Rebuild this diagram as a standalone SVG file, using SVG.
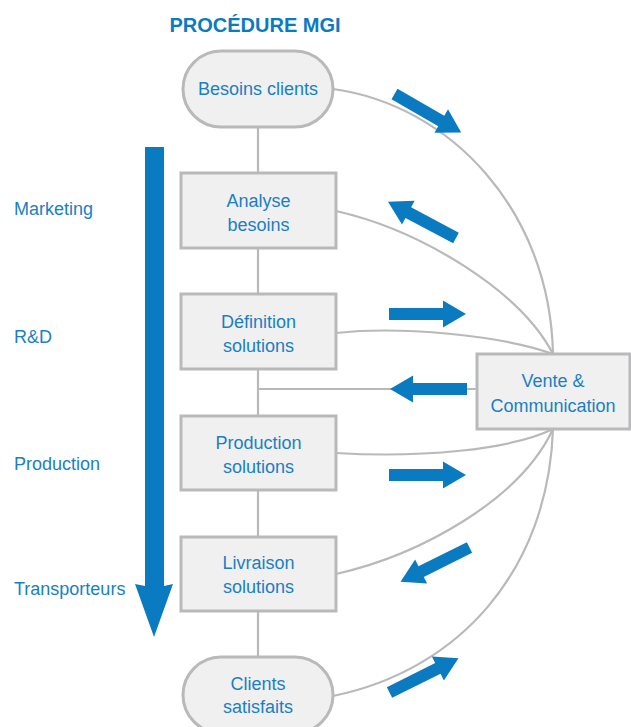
<svg xmlns="http://www.w3.org/2000/svg" width="631" height="727" viewBox="0 0 631 727">
<style>
.t{font-family:"Liberation Sans",Arial,sans-serif;font-size:18px;fill:#1a7fc4}
.c{text-anchor:middle}
.title{font-family:"Liberation Sans",Arial,sans-serif;font-size:20px;font-weight:bold;fill:#0b7bc1;text-anchor:middle}
.box{fill:#f0f0f0;stroke:#b9b9bb;stroke-width:3}
.ln{fill:none;stroke:#b9b9bb;stroke-width:2.2}
.ba{fill:#0b7bc1}
</style>
<defs>
<path id="arr" d="M0,-6 H54 V-13.5 L77,0 L54,13.5 V6 H0 Z"/>
</defs>
<rect width="631" height="727" fill="#ffffff"/>
<text class="title" x="255" y="32">PROCÉDURE MGI</text>
<g id="lanes">
<path class="ba" d="M145,147 H164 V586 L173,584 L154,637 L135,584 L145,586 Z"/>
<text class="t" x="14" y="215">Marketing</text>
<text class="t" x="14" y="343">R&amp;D</text>
<text class="t" x="14" y="470">Production</text>
<text class="t" x="14" y="595">Transporteurs</text>
</g>
<g id="connectors">
<line class="ln" x1="258" y1="127" x2="258" y2="660"/>
<line class="ln" x1="258" y1="389" x2="477" y2="389"/>
<path class="ln" d="M333,89 C450,105 550,210 553,354"/>
<path class="ln" d="M336,211 C420,230 520,290 553,354"/>
<path class="ln" d="M336,333 C400,326 500,335 553,354"/>
<path class="ln" d="M336,453 C420,458 510,450 553,429"/>
<path class="ln" d="M336,574 C420,555 520,500 553,429"/>
<path class="ln" d="M333,696 C460,670 548,570 553,429"/>
</g>
<g id="flow-arrows" class="ba">
<use href="#arr" transform="translate(394.5,94) rotate(30)"/>
<use href="#arr" transform="translate(456,238) rotate(-152)"/>
<use href="#arr" transform="translate(389,314)"/>
<use href="#arr" transform="translate(467,389) rotate(180)"/>
<use href="#arr" transform="translate(389,475)"/>
<use href="#arr" transform="translate(469.5,547.5) rotate(153.6)"/>
<use href="#arr" transform="translate(389.5,692.5) rotate(-26.4)"/>
</g>
<g id="besoins-clients">
<rect class="box" x="183" y="51" width="150" height="76" rx="38"/>
<text class="t c" x="258" y="95">Besoins clients</text>
</g>
<g id="analyse-besoins">
<rect class="box" x="181" y="173" width="155" height="75"/>
<text class="t c" x="258.5" y="207">Analyse</text>
<text class="t c" x="258.5" y="231">besoins</text>
</g>
<g id="definition-solutions">
<rect class="box" x="181" y="294" width="155" height="75"/>
<text class="t c" x="258.5" y="328">Définition</text>
<text class="t c" x="258.5" y="352">solutions</text>
</g>
<g id="production-solutions">
<rect class="box" x="181" y="416" width="155" height="74"/>
<text class="t c" x="258.5" y="449">Production</text>
<text class="t c" x="258.5" y="473">solutions</text>
</g>
<g id="livraison-solutions">
<rect class="box" x="181" y="537" width="155" height="74"/>
<text class="t c" x="258.5" y="569">Livraison</text>
<text class="t c" x="258.5" y="593">solutions</text>
</g>
<g id="clients-satisfaits">
<rect class="box" x="183" y="657" width="150" height="76" rx="38"/>
<text class="t c" x="258" y="690">Clients</text>
<text class="t c" x="258" y="713">satisfaits</text>
</g>
<g id="vente-communication">
<rect class="box" x="477" y="354" width="153" height="75"/>
<text class="t c" x="553" y="387">Vente &amp;</text>
<text class="t c" x="553" y="412">Communication</text>
</g>
</svg>
